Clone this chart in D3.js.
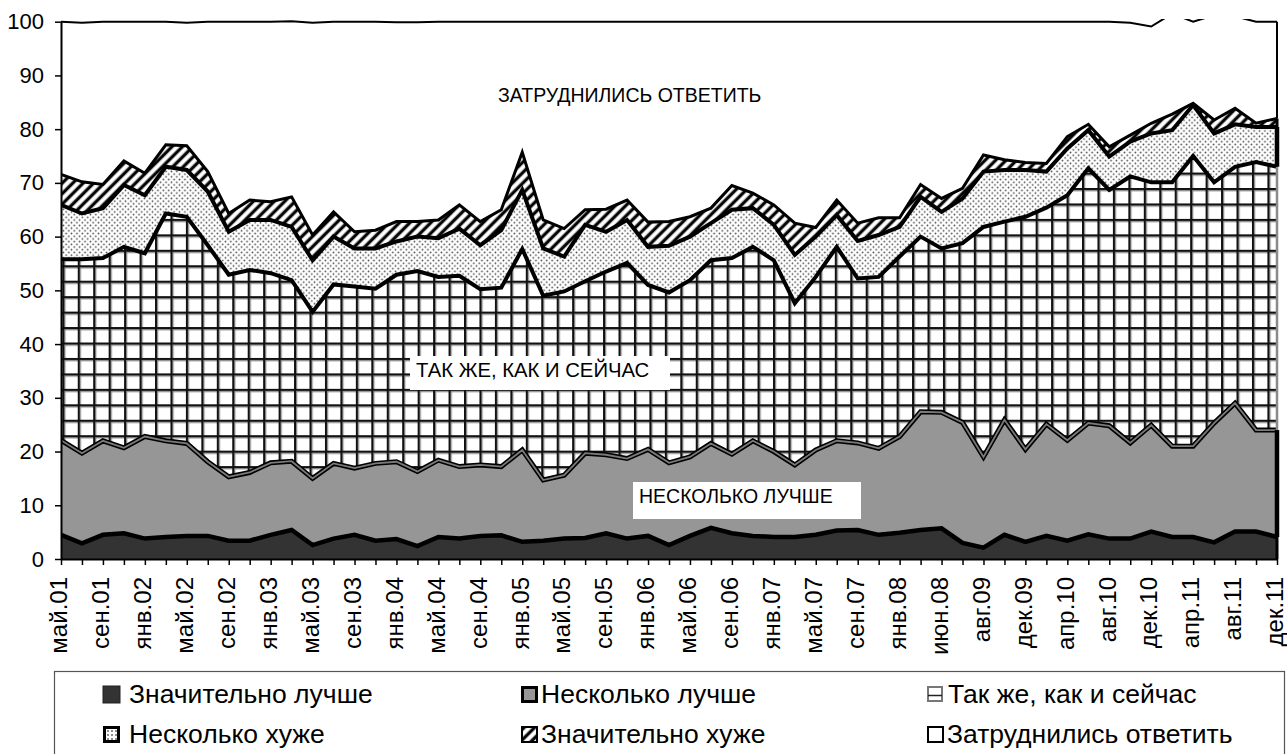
<!DOCTYPE html>
<html>
<head>
<meta charset="utf-8">
<script src="https://cdn.jsdelivr.net/npm/d3@7"></script>
<style>
  html, body { margin: 0; padding: 0; background: #fff; }
  svg { display: block; font-family: "Liberation Sans", Arial, sans-serif; }
</style>
</head>
<body>
<svg id="chart" width="1287" height="754"></svg>
<script>
// ---- DATA ----
const categories = [
  "май.01","июл.01","сен.01","ноя.01","янв.02","мар.02","май.02","июл.02","сен.02","ноя.02",
  "янв.03","мар.03","май.03","июл.03","сен.03","ноя.03","янв.04","мар.04","май.04","июл.04",
  "сен.04","ноя.04","янв.05","мар.05","май.05","июл.05","сен.05","ноя.05","янв.06","мар.06",
  "май.06","июл.06","сен.06","ноя.06","янв.07","мар.07","май.07","июл.07","сен.07","ноя.07",
  "янв.08","апр.08","июн.08","ноя.08","авг.09","окт.09","дек.09","фев.10","апр.10","июн.10",
  "авг.10","окт.10","дек.10","фев.11","апр.11","июн.11","авг.11","окт.11","дек.11"
];
const yTicks = [0,10,20,30,40,50,60,70,80,90,100];

const znachitelnoLuchshe = [4.5,2.9,4.5,4.8,3.8,4.1,4.3,4.3,3.4,3.4,4.5,5.4,2.6,3.8,4.5,3.4,3.7,2.4,4.1,3.8,
  4.3,4.4,3.2,3.4,3.8,3.9,4.8,3.8,4.3,2.6,4.3,5.8,4.8,4.3,4.1,4.1,4.5,5.3,5.4,4.5,
  4.9,5.4,5.7,3.0,2.1,4.5,3.2,4.3,3.4,4.6,3.8,3.8,5.1,4.1,4.1,3.1,5.1,5.1,4.1];
const neskolkoLuchshe = [17.6,16.8,17.5,15.9,19.0,17.9,17.2,13.8,11.9,12.7,13.4,12.8,12.4,14.0,12.4,14.4,14.4,13.9,14.3,13.4,
  13.2,12.8,17.1,11.3,11.8,15.8,14.6,14.9,16.1,15.3,14.7,15.7,14.7,17.7,15.9,13.4,15.8,16.7,16.2,16.1,
  17.9,22.0,21.6,22.4,16.9,21.4,17.2,20.8,18.7,20.7,21.0,17.8,19.8,16.9,16.9,22.2,23.9,18.9,19.9];
const takZhe = [33.7,36.1,34.0,37.4,34.1,42.3,42.2,40.3,37.6,37.7,35.3,33.7,31.0,33.3,33.8,32.5,34.8,37.3,34.1,35.5,
  32.7,33.3,37.4,34.3,34.2,32.0,34.1,36.4,30.6,31.7,32.9,34.1,36.5,36.1,35.6,30.1,32.2,36.1,30.6,31.9,
  33.5,32.6,30.5,33.4,42.8,36.9,43.3,40.3,45.6,47.4,43.9,49.6,45.2,49.1,54.0,44.8,44.0,49.9,49.0];
const neskolkoKhuzhe = [10.1,8.5,9.3,11.5,10.8,8.7,8.7,10.0,8.0,9.3,9.9,9.9,9.6,8.9,7.1,7.5,6.2,6.4,7.2,8.8,
  8.2,10.7,11.0,8.8,6.5,10.5,7.4,8.0,7.1,8.7,8.1,6.9,9.0,7.2,6.6,9.0,7.5,5.9,7.0,7.8,
  5.5,7.4,6.8,8.3,10.3,9.6,8.7,6.7,8.7,7.1,6.2,6.5,9.1,9.7,9.5,9.1,7.9,6.5,7.4];
const znachitelnoKhuzhe = [5.7,5.9,4.4,4.5,4.1,4.1,4.5,3.7,3.4,3.7,3.4,5.6,4.7,4.6,3.1,3.4,3.7,2.8,3.4,4.4,
  4.4,3.8,7.0,5.3,5.2,2.8,4.2,3.7,4.6,4.5,3.7,2.8,4.5,2.8,3.7,5.9,1.7,2.8,3.3,3.2,
  1.7,2.3,2.5,1.9,3.1,1.9,1.4,1.5,2.2,1.1,1.8,1.2,1.9,3.0,0.3,2.5,3.0,0.7,1.6];
const zatrudnilis = [28.4,29.6,30.3,25.9,28.2,22.9,22.9,27.9,35.7,33.2,33.5,32.7,39.5,35.4,39.1,38.8,37.1,37.1,36.9,34.1,
  37.2,35.0,24.3,36.9,38.5,35.0,34.9,33.2,37.3,37.2,36.3,34.7,30.5,31.9,34.1,37.5,38.3,33.2,37.5,36.5,
  36.5,30.3,32.9,31.0,24.8,25.7,26.2,26.4,21.4,19.1,23.3,20.9,18.0,18.7,15.2,19.5,17.1,18.9,18.0];

const seriesNames = ["Значительно лучше","Несколько лучше","Так же, как и сейчас","Несколько хуже","Значительно хуже","Затруднились ответить"];
const seriesValues = [znachitelnoLuchshe, neskolkoLuchshe, takZhe, neskolkoKhuzhe, znachitelnoKhuzhe, zatrudnilis];
const areaLabels = ["ЗАТРУДНИЛИСЬ ОТВЕТИТЬ","ТАК ЖЕ, КАК И СЕЙЧАС","НЕСКОЛЬКО ЛУЧШЕ"];

// ---- CHART ----
(function () {
const svg = d3.select("#chart");
const pL = 61, pR = 1277, pT = 21.7, pB = 559;
const x = d3.scalePoint().domain(categories).range([pL, pR]);
const y = d3.scaleLinear().domain([0, 100]).range([pB, pT]);

const rows = categories.map((c, i) => {
  const r = { cat: c };
  seriesNames.forEach((n, k) => r[n] = seriesValues[k][i]);
  return r;
});
const stacked = d3.stack().keys(seriesNames)(rows);

// patterns
const defs = svg.append("defs");
const grid = defs.append("pattern").attr("id", "grid").attr("patternUnits", "userSpaceOnUse")
  .attr("x", 63.3 - 1).attr("y", 281.7 - 1).attr("width", 15.45).attr("height", 15.45);
grid.append("rect").attr("width", 15.45).attr("height", 15.45).attr("fill", "#fff");
grid.append("rect").attr("x", 0).attr("y", 2).attr("width", 15.45).attr("height", 1.3).attr("fill", "#8a8a8a");
grid.append("rect").attr("x", 2).attr("y", 0).attr("width", 1.2).attr("height", 15.45).attr("fill", "#8a8a8a");
grid.append("rect").attr("x", 0).attr("y", 0).attr("width", 15.45).attr("height", 2).attr("fill", "#111");
grid.append("rect").attr("x", 0).attr("y", 0).attr("width", 2).attr("height", 15.45).attr("fill", "#111");

const dots = defs.append("pattern").attr("id", "dots").attr("patternUnits", "userSpaceOnUse")
  .attr("width", 5.4).attr("height", 5.4);
dots.append("rect").attr("width", 5.4).attr("height", 5.4).attr("fill", "#fff");
dots.append("circle").attr("cx", 1.35).attr("cy", 1.35).attr("r", 0.85).attr("fill", "#444");
dots.append("circle").attr("cx", 4.05).attr("cy", 4.05).attr("r", 0.85).attr("fill", "#444");

const stripes = defs.append("pattern").attr("id", "stripes").attr("patternUnits", "userSpaceOnUse")
  .attr("width", 7.4).attr("height", 7.4).attr("patternTransform", "rotate(45)");
stripes.append("rect").attr("width", 7.4).attr("height", 7.4).attr("fill", "#fff");
stripes.append("rect").attr("x", 1.2).attr("width", 4.2).attr("height", 7.4).attr("fill", "#9a9a9a");
stripes.append("rect").attr("x", 2).attr("width", 2.6).attr("height", 7.4).attr("fill", "#000");

const smallDots = defs.append("pattern").attr("id", "smallDots").attr("patternUnits", "userSpaceOnUse")
  .attr("width", 4).attr("height", 4);
smallDots.append("rect").attr("width", 4).attr("height", 4).attr("fill", "#fff");
smallDots.append("circle").attr("cx", 1).attr("cy", 1).attr("r", 0.8).attr("fill", "#000");

defs.append("clipPath").attr("id", "plotClip").append("rect")
  .attr("x", pL).attr("y", pT - 2.6).attr("width", pR - pL + 4).attr("height", pB - pT + 4);

const fills = ["#333333", "#969696", "url(#grid)", "url(#dots)", "url(#stripes)", "#ffffff"];

const area = d3.area().x(d => x(d.data.cat)).y0(d => y(d[0])).y1(d => y(d[1]));
const line = d3.line().x(d => x(d.data.cat)).y(d => y(d[1]));

const plot = svg.append("g").attr("clip-path", "url(#plotClip)");
plot.selectAll("path.area").data(stacked).join("path")
  .attr("class", "area").attr("d", area).attr("fill", (d, i) => fills[i]);

const lineStyles = [
  [{ c: "#000", w: 4.5 }],
  [{ c: "#000", w: 5 }, { c: "#7a7a7a", w: 1.8 }],
  [{ c: "#000", w: 4 }],
  [{ c: "#000", w: 4 }],
  [{ c: "#000", w: 3 }],
  [{ c: "#000", w: 2 }]
];
stacked.forEach((s, i) => {
  lineStyles[i].forEach(st => {
    plot.append("path").attr("d", line(s)).attr("fill", "none")
      .attr("stroke", st.c).attr("stroke-width", st.w).attr("stroke-linejoin", "miter");
  });
});

const edgeStyles = [{ c: "#000", w: 3 }, { c: "#000", w: 4.5 }, { c: "#8a8a8a", w: 2.5 }, { c: "#000", w: 4.5 }, { c: "#000", w: 3 }, { c: "#000", w: 2 }];
stacked.forEach((s, i) => {
  const last = s[s.length - 1];
  const xr = x(last.data.cat);
  plot.append("line").attr("x1", xr).attr("x2", xr)
    .attr("y1", y(last[0])).attr("y2", y(Math.min(last[1], 100.4)))
    .attr("stroke", edgeStyles[i].c).attr("stroke-width", edgeStyles[i].w);
});

const yAxis = svg.append("g").attr("transform", `translate(${pL},0)`)
  .call(d3.axisLeft(y).tickValues(yTicks).tickSize(6).tickSizeOuter(0).tickPadding(11));
yAxis.select(".domain").attr("stroke", "#000").attr("stroke-width", 2);
yAxis.selectAll(".tick line").attr("stroke", "#000").attr("stroke-width", 1.5);
yAxis.selectAll(".tick text").attr("font-size", 22).attr("font-family", "Liberation Sans, Arial, sans-serif").attr("fill", "#000");

const xAxis = svg.append("g").attr("transform", `translate(0,${pB})`)
  .call(d3.axisBottom(x).tickSize(6).tickSizeOuter(0)
    .tickFormat((d, i) => i % 2 === 0 ? d : ""));
xAxis.select(".domain").attr("stroke", "#000").attr("stroke-width", 2);
xAxis.selectAll(".tick line").attr("stroke", "#000").attr("stroke-width", 1.5);
xAxis.selectAll(".tick text")
  .attr("font-size", 24).attr("font-family", "Liberation Sans, Arial, sans-serif").attr("fill", "#000")
  .attr("transform", "rotate(-90)")
  .attr("text-anchor", "end")
  .attr("x", -18).attr("y", 0).attr("dy", "0.24em");

svg.append("text").attr("x", 498).attr("y", 102).attr("font-size", 19.5).text(areaLabels[0]);
svg.append("rect").attr("x", 410).attr("y", 356).attr("width", 260).attr("height", 34).attr("fill", "#fff");
svg.append("text").attr("x", 416).attr("y", 377).attr("font-size", 20.3).text(areaLabels[1]);
svg.append("rect").attr("x", 633).attr("y", 482).attr("width", 228).attr("height", 37).attr("fill", "#fff");
svg.append("text").attr("x", 639).attr("y", 503).attr("font-size", 19.5).text(areaLabels[2]);

svg.append("rect").attr("x", 54.5).attr("y", 671.5).attr("width", 1230).attr("height", 120)
  .attr("fill", "#fff").attr("stroke", "#555").attr("stroke-width", 1.2);
const legPos = [
  { sx: 103, tx: 129, ty: 703 }, { sx: 521, tx: 541, ty: 703 }, { sx: 927, tx: 948, ty: 703 },
  { sx: 103, tx: 129, ty: 743 }, { sx: 521, tx: 541, ty: 743 }, { sx: 927, tx: 947, ty: 743 }
];
[0, 1, 2, 3, 4, 5].forEach((k, j) => {
  const p = legPos[j];
  const g = svg.append("g").attr("transform", `translate(${p.sx},${p.ty - 17})`);
  const s = 17;
  if (k === 0) {
    g.append("rect").attr("width", s).attr("height", s).attr("fill", "#333").attr("stroke", "#222").attr("stroke-width", 1);
  } else if (k === 1) {
    g.append("rect").attr("x", 1.5).attr("y", 1.5).attr("width", s - 3).attr("height", s - 3).attr("fill", "#969696").attr("stroke", "#000").attr("stroke-width", 3);
  } else if (k === 2) {
    g.append("rect").attr("x", 1).attr("y", 1).attr("width", s - 3).attr("height", s - 3).attr("fill", "#fff").attr("stroke", "#777").attr("stroke-width", 2);
    g.append("line").attr("x1", 1).attr("x2", s - 2).attr("y1", s / 2 + 1).attr("y2", s / 2 + 1).attr("stroke", "#222").attr("stroke-width", 1.5);
  } else if (k === 3) {
    g.append("rect").attr("x", 1.5).attr("y", 1.5).attr("width", s - 3).attr("height", s - 3).attr("fill", "url(#smallDots)").attr("stroke", "#000").attr("stroke-width", 3);
  } else if (k === 4) {
    g.append("rect").attr("x", 1).attr("y", 1).attr("width", s - 2).attr("height", s - 2).attr("fill", "url(#stripes)").attr("stroke", "#000").attr("stroke-width", 2);
  } else {
    g.append("rect").attr("x", 1).attr("y", 1).attr("width", s - 2).attr("height", s - 2).attr("fill", "#fff").attr("stroke", "#000").attr("stroke-width", 2);
  }
  svg.append("text").attr("x", p.tx).attr("y", p.ty)
    .attr("font-size", 26.5).attr("fill", "#000").text(seriesNames[k]);
});
})();
</script>
</body>
</html>
